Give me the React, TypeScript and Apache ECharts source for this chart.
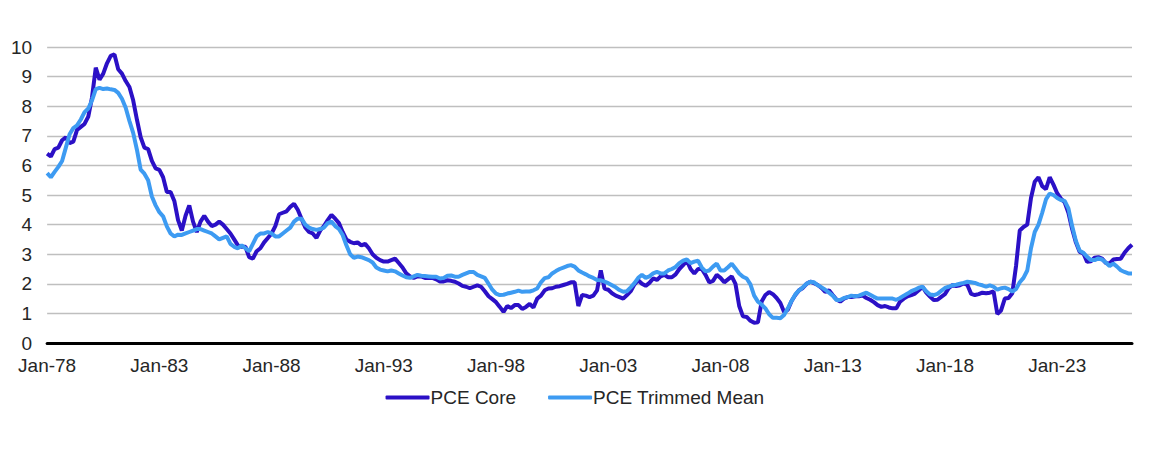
import React, { useEffect, useRef } from "react";
import * as echarts from "echarts";

// Observations every two months, starting Jan-1978
const startYear = 1978;
const stepMonths = 2;
const monthNames = ["Jan", "Feb", "Mar", "Apr", "May", "Jun", "Jul", "Aug", "Sep", "Oct", "Nov", "Dec"];

const pceCore = [
  6.4, 6.3, 6.55, 6.6, 6.85, 6.95,
  6.75, 6.8, 7.2, 7.3, 7.4, 7.65,
  8.3, 9.3, 8.9, 9.1, 9.45, 9.7,
  9.75, 9.25, 9.1, 8.85, 8.65, 8.2,
  7.55, 6.95, 6.6, 6.55, 6.15, 5.9,
  5.85, 5.6, 5.1, 5.1, 4.8, 4.15,
  3.8, 4.3, 4.65, 4.1, 3.75, 4.1,
  4.3, 4.1, 3.95, 4.0, 4.1, 4.0,
  3.85, 3.7, 3.5, 3.3, 3.25, 3.25,
  2.9, 2.85, 3.1, 3.2, 3.4, 3.55,
  3.7, 3.95, 4.35, 4.4, 4.45, 4.6,
  4.7, 4.5, 4.2, 3.9, 3.75, 3.7,
  3.55, 3.8, 3.95, 4.15, 4.33, 4.2,
  4.05, 3.75, 3.5, 3.42, 3.37, 3.4,
  3.3, 3.35, 3.2, 3.0, 2.88, 2.8,
  2.75, 2.75, 2.8, 2.85, 2.7, 2.55,
  2.35, 2.25, 2.2, 2.25, 2.25, 2.2,
  2.2, 2.2, 2.15, 2.08, 2.08, 2.12,
  2.1, 2.07, 2.01, 1.93, 1.9, 1.85,
  1.9, 1.95, 1.9, 1.75, 1.58, 1.48,
  1.38, 1.22, 1.05, 1.25, 1.18, 1.28,
  1.28, 1.15, 1.22, 1.32, 1.2, 1.5,
  1.6, 1.78, 1.84, 1.85, 1.9, 1.92,
  1.96, 2.0, 2.05, 2.05, 1.25, 1.62,
  1.6, 1.55, 1.6, 1.78, 2.45, 1.84,
  1.8, 1.68, 1.6, 1.55, 1.5, 1.62,
  1.75, 1.98, 2.12, 2.0, 1.93, 2.03,
  2.18, 2.13, 2.25, 2.3, 2.22, 2.22,
  2.32, 2.5, 2.63, 2.78, 2.5, 2.35,
  2.5, 2.5, 2.3, 2.05, 2.1, 2.3,
  2.2, 2.05, 2.15, 2.25, 2.0, 1.25,
  0.9, 0.88, 0.75, 0.68, 0.7, 1.4,
  1.62, 1.72, 1.65, 1.52, 1.35, 1.05,
  1.12, 1.42, 1.62, 1.78, 1.86, 2.0,
  2.07, 2.02, 1.96, 1.86, 1.73, 1.78,
  1.62, 1.47, 1.4, 1.5, 1.55, 1.55,
  1.58, 1.58, 1.6, 1.52, 1.46, 1.38,
  1.28, 1.22, 1.25, 1.2, 1.17, 1.17,
  1.4, 1.5, 1.58, 1.62, 1.67, 1.78,
  1.9, 1.7, 1.57, 1.45, 1.46, 1.56,
  1.65, 1.85, 1.96, 1.92, 1.95, 2.01,
  1.96, 1.66, 1.62, 1.65, 1.7, 1.68,
  1.7, 1.74, 0.98, 1.1, 1.5, 1.52,
  1.68, 2.6, 3.8, 3.92, 4.0, 4.9,
  5.45, 5.6, 5.3, 5.2, 5.6, 5.35,
  5.06, 4.88, 4.75, 4.4, 3.85, 3.4,
  3.08, 3.03, 2.74, 2.76, 2.88, 2.9,
  2.85, 2.7, 2.68, 2.82, 2.84, 2.85,
  3.05, 3.2, 3.32,
];

const pceTrimmedMean = [
  5.74, 5.6, 5.78, 5.95, 6.15, 6.6,
  7.05, 7.26, 7.35, 7.55, 7.8, 7.92,
  8.2, 8.58, 8.62, 8.58, 8.6, 8.57,
  8.55, 8.45, 8.25, 7.95, 7.5, 7.1,
  6.53, 5.86, 5.72, 5.5, 4.95, 4.65,
  4.42, 4.28, 3.94, 3.7, 3.6, 3.66,
  3.65, 3.7, 3.75, 3.8, 3.85, 3.85,
  3.8, 3.75, 3.7, 3.6, 3.5, 3.55,
  3.6, 3.35, 3.25, 3.2, 3.3, 3.2,
  3.1, 3.35, 3.6, 3.7, 3.7, 3.75,
  3.7, 3.6, 3.6, 3.7, 3.8, 3.9,
  4.1, 4.2, 4.2, 4.0, 3.9, 3.85,
  3.82, 3.85, 3.9, 4.05, 4.1, 3.95,
  3.85, 3.65, 3.3, 3.0, 2.88, 2.92,
  2.9, 2.85, 2.8, 2.72, 2.55, 2.48,
  2.45, 2.42, 2.45, 2.42, 2.35, 2.28,
  2.22, 2.2, 2.25, 2.3, 2.27, 2.26,
  2.25, 2.24, 2.24, 2.18, 2.2, 2.27,
  2.28, 2.24, 2.24, 2.3, 2.35, 2.4,
  2.4, 2.3, 2.25, 2.2, 2.0, 1.8,
  1.67, 1.62, 1.63, 1.67, 1.7, 1.73,
  1.77, 1.73, 1.74, 1.74, 1.78, 1.84,
  2.05, 2.19, 2.22, 2.35, 2.43, 2.5,
  2.55, 2.6, 2.63, 2.58, 2.45, 2.38,
  2.32, 2.25, 2.2, 2.13, 2.12, 2.07,
  2.02, 1.95, 1.88, 1.79, 1.73, 1.75,
  1.88, 2.02, 2.2, 2.3, 2.2, 2.25,
  2.35, 2.4, 2.35, 2.35, 2.45, 2.5,
  2.57, 2.7, 2.78, 2.82, 2.7, 2.75,
  2.78, 2.55, 2.42, 2.45, 2.58, 2.68,
  2.45, 2.45, 2.56, 2.68, 2.52, 2.35,
  2.24, 2.18, 1.98, 1.6, 1.4, 1.3,
  1.17, 0.97, 0.85, 0.85, 0.84, 0.95,
  1.17, 1.42, 1.64, 1.78, 1.88, 2.0,
  2.07, 2.05, 1.95, 1.88, 1.8, 1.7,
  1.6, 1.45, 1.45, 1.52, 1.55, 1.6,
  1.58, 1.6, 1.65, 1.7, 1.63, 1.56,
  1.5, 1.5, 1.5, 1.5, 1.5, 1.46,
  1.52, 1.6, 1.67, 1.75, 1.8, 1.87,
  1.9, 1.75, 1.64, 1.62, 1.66, 1.76,
  1.86, 1.9, 1.95, 1.97, 2.0, 2.03,
  2.07, 2.05, 2.03, 1.98, 1.95, 1.9,
  1.95, 1.9, 1.8, 1.85, 1.87, 1.82,
  1.74, 1.82, 2.05, 2.2, 2.45, 3.2,
  3.75, 4.0, 4.4, 4.85, 5.05, 5.0,
  4.9, 4.83, 4.8, 4.55, 3.95, 3.45,
  3.12, 3.05, 2.91, 2.8, 2.8, 2.86,
  2.82, 2.72, 2.6, 2.68, 2.58, 2.46,
  2.4, 2.35, 2.35,
];

const seriesNames = ["PCE Core", "PCE Trimmed Mean"];
const seriesColors = ["#2B10C6", "#3D9BF2"];
const yTicks = { min: 0, max: 10, interval: 1 };
const labelEvery = 30; // one label every five years

const categories = pceCore.map((_, i) => {
  const m = i * stepMonths;
  const y = startYear + Math.floor(m / 12);
  return monthNames[m % 12] + "-" + String(y % 100).padStart(2, "0");
});

export default function App() {
  const ref = useRef<HTMLDivElement>(null);
  useEffect(() => {
    if (!ref.current) return;
    const chart = echarts.init(ref.current, null, { renderer: "svg" });
    const font = "Liberation Sans, Arial, sans-serif";
    const textColor = "#262626";
    chart.setOption({
      animation: false,
      textStyle: { fontFamily: font },
      grid: { left: 37, right: 10, top: 39, bottom: 99, containLabel: false },
      legend: {
        data: seriesNames,
        top: 375,
        left: "center",
        icon: "roundRect",
        itemWidth: 44,
        itemHeight: 4,
        itemGap: 32,
        textStyle: { fontSize: 19, color: textColor, fontFamily: font, padding: [0, 0, 0, -4] },
      },
      xAxis: {
        type: "category",
        data: categories,
        boundaryGap: false,
        axisLine: { show: true, lineStyle: { color: "#000000", width: 3 } },
        axisTick: { show: false },
        axisLabel: {
          interval: labelEvery - 1,
          fontSize: 19,
          color: textColor,
          margin: 13,
          fontFamily: font,
        },
        splitLine: { show: false },
      },
      yAxis: {
        type: "value",
        min: yTicks.min,
        max: yTicks.max,
        interval: yTicks.interval,
        axisLine: { show: false },
        axisTick: { show: false },
        axisLabel: { fontSize: 19, color: textColor, margin: 15, fontFamily: font },
        splitLine: { lineStyle: { color: "#BFBFBF", width: 1.3 } },
      },
      series: [
        {
          name: seriesNames[0],
          type: "line",
          data: pceCore,
          showSymbol: false,
          symbol: "none",
          lineStyle: { color: seriesColors[0], width: 4 },
          itemStyle: { color: seriesColors[0] },
        },
        {
          name: seriesNames[1],
          type: "line",
          data: pceTrimmedMean,
          showSymbol: false,
          symbol: "none",
          lineStyle: { color: seriesColors[1], width: 4 },
          itemStyle: { color: seriesColors[1] },
        },
      ],
    });
    return () => chart.dispose();
  }, []);
  return <div ref={ref} style={{ width: 1134, height: 434 }} />;
}
